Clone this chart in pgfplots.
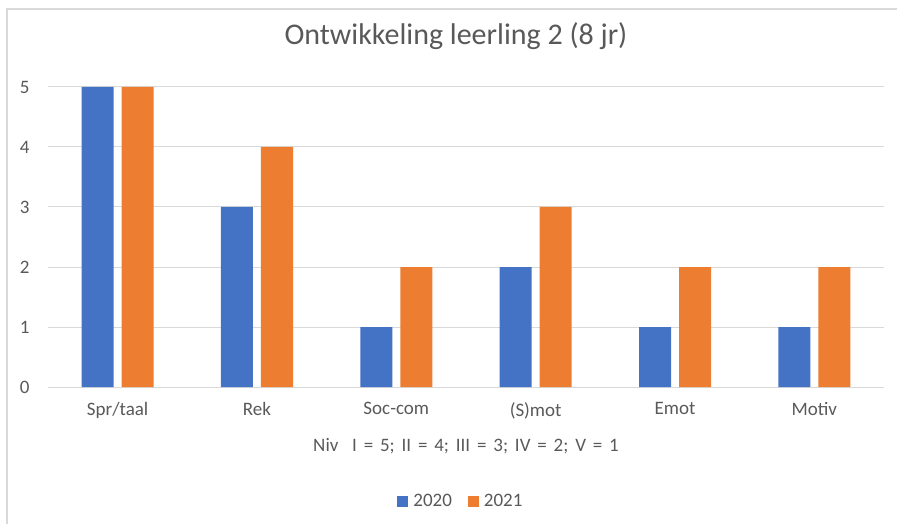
\documentclass[border=0pt]{standalone}
\usepackage{fontspec}
\setmainfont{Carlito}
\usepackage{pgfplots}
\pgfplotsset{compat=1.18}
\definecolor{blueA}{HTML}{4472C4}
\definecolor{orangeB}{HTML}{ED7D31}
\definecolor{txtgray}{HTML}{595959}
\definecolor{gridgray}{HTML}{D9D9D9}
\begin{document}
\begin{tikzpicture}
\begin{axis}[
  name=ax,
  scale only axis, width=836bp, height=300bp,
  xmin=-0.5, xmax=5.5, ymin=0, ymax=5,
  ybar=8bp, bar width=32bp,
  axis line style={draw=none},
  major tick length=0pt,
  xtick=data,
  xticklabels={Spr/taal, Rek, Soc-com, (S)mot, Emot, Motiv},
  ytick={0,1,2,3,4,5},
  ymajorgrids, grid style={gridgray, line width=1bp},
  ticklabel style={font=\fontsize{19bp}{22bp}\selectfont, text=txtgray},
  /pgf/number format/assume math mode=true,
  xticklabel style={yshift=-12bp},
  yticklabel style={xshift=-15bp},
  title={Ontwikkeling leerling 2 (8 jr)},
  title style={at={(rel axis cs:0.488,1)}, anchor=center, yshift=45bp,
    font=\fontsize{30bp}{34bp}\selectfont, text=txtgray},
  xlabel={\spaceskip=0.36em Niv\ \ I = 5; II = 4; III = 3; IV = 2; V = 1},
  xlabel style={at={(rel axis cs:0.5,0)}, anchor=center, yshift=-59bp,
    font=\fontsize{19bp}{22bp}\selectfont, text=txtgray},
  legend style={at={(rel axis cs:0.494,-0.38)}, anchor=center, draw=none,
    legend columns=2, font=\fontsize{19bp}{22bp}\selectfont, text=txtgray,
    /tikz/every even column/.append style={column sep=14bp},
    /tikz/every odd column/.append style={column sep=3bp},
    legend cell align=left},
  legend image code/.code={\fill[#1,draw=none] (0bp,-5.5bp) rectangle (11bp,5.5bp);},
]
\addplot[fill=blueA, draw=none] coordinates {(0,5) (1,3) (2,1) (3,2) (4,1) (5,1)};
\addplot[fill=orangeB, draw=none] coordinates {(0,5) (1,4) (2,2) (3,3) (4,2) (5,2)};
\legend{2020, 2021}
\end{axis}
\pgfresetboundingbox
\path ([xshift=-48bp,yshift=-137bp]ax.south west) coordinate (O);
\useasboundingbox (O) rectangle ++(897bp,524bp);
\draw[gridgray, line width=1.2bp] ([xshift=7bp,yshift=-20bp]O) -- ([xshift=7bp,yshift=515bp]O) -- ([xshift=920bp,yshift=515bp]O);
\end{tikzpicture}
\end{document}
